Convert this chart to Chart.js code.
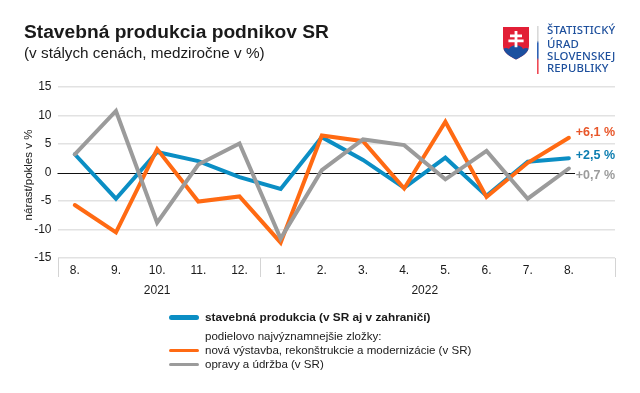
<!DOCTYPE html>
<html lang="sk">
<head>
<meta charset="utf-8">
<title>Stavebná produkcia podnikov SR</title>
<script src="https://cdn.jsdelivr.net/npm/chart.js@4"></script>
<style>
  html, body { margin: 0; padding: 0; background: #fff; }
  body { width: 640px; height: 393px; position: relative; overflow: hidden; font-family: "Liberation Sans", Arial, sans-serif; color: #1a1a1a; }
  canvas { position: absolute; left: 0; top: 0; }
  .txt { position: absolute; white-space: nowrap; }
  .title { left: 24px; top: 20px; font-size: 19.2px; font-weight: bold; line-height: 24px; }
  .subtitle { left: 24px; top: 43px; font-size: 15.3px; line-height: 20px; }
  .logo { left: 547px; font-family: "Noto Sans", sans-serif; font-size: 11.4px; line-height: 13px; font-weight: 500; color: #1d4f9c; letter-spacing: .15px; }
  .leg { left: 205px; font-size: 11.55px; line-height: 14px; }
  .swatch { position: absolute; left: 169px; width: 30px; border-radius: 2px; }
</style>
</head>
<body>
<canvas id="chart" width="640" height="393"></canvas>

<div class="txt title">Stavebná produkcia podnikov SR</div>
<div class="txt subtitle">(v stálych cenách, medziročne v %)</div>

<svg style="position:absolute;left:500px;top:24px" width="44" height="52" viewBox="500 24 44 52">
  <defs>
    <linearGradient id="bar" x1="0" y1="0" x2="0" y2="1">
      <stop offset="0" stop-color="#d9d9d9"/><stop offset=".3" stop-color="#d9d9d9"/>
      <stop offset=".36" stop-color="#2f62b5"/><stop offset=".66" stop-color="#2f62b5"/>
      <stop offset=".72" stop-color="#ee4a55"/><stop offset="1" stop-color="#ee4a55"/>
    </linearGradient>
    <clipPath id="shield"><path d="M503 27H529V46C529 53 521 57 516 59.5C511 57 503 53 503 46Z"/></clipPath>
  </defs>
  <path d="M503 27H529V46C529 53 521 57 516 59.5C511 57 503 53 503 46Z" fill="#e21f36"/>
  <path clip-path="url(#shield)" d="M500 52C503 48 506 47 509 49C511 44 521 44 523 49C526 47 529 48 532 52V62H500Z" fill="#1c4f9f"/>
  <path d="M514.6 31h2.8v3.6h4.6v2.6h-4.6v2.4h6.2v2.6h-6.2v5h-2.8v-5h-6.2v-2.6h6.2v-2.4h-4.6v-2.6h4.6z" fill="#fff"/>
  <rect x="537" y="26" width="1.6" height="48" fill="url(#bar)"/>
</svg>
<div class="txt logo" style="top:23px">ŠTATISTICKÝ</div>
<div class="txt logo" style="top:37px">ÚRAD</div>
<div class="txt logo" style="top:49px">SLOVENSKEJ</div>
<div class="txt logo" style="top:61px">REPUBLIKY</div>

<div class="swatch" style="top:314.5px;height:5px;background:#0b8ec4;border-radius:3px"></div>
<div class="txt leg" id="legA" style="top:310px;font-weight:bold;font-size:11.8px"></div>
<div class="txt leg" id="legNote" style="top:329px"></div>
<div class="swatch" style="top:348.5px;height:3px;background:#ff6a13"></div>
<div class="txt leg" id="legB" style="top:343px"></div>
<div class="swatch" style="top:363px;height:3px;background:#9b9b9b"></div>
<div class="txt leg" id="legC" style="top:357px"></div>

<script>
const months = ['8.', '9.', '10.', '11.', '12.', '1.', '2.', '3.', '4.', '5.', '6.', '7.', '8.'];
const years = [{ label: '2021', from: 0, to: 4 }, { label: '2022', from: 5, to: 12 }];
const yearBreaks = [4.5];

const stavebna = [3.2, -4.6, 3.6, 2.0, -0.8, -2.9, 6.2, 2.2, -2.7, 2.6, -4.1, 1.9, 2.5];
const novaVystavba = [-5.7, -10.5, 4.1, -5.1, -4.2, -12.3, 6.5, 5.5, -2.8, 8.9, -4.3, 1.7, 6.1];
const opravy = [3.2, 10.8, -8.8, 1.4, 5.1, -11.6, 0.4, 5.8, 4.8, -1.2, 3.8, -4.6, 0.7];

const seriesNames = [
  'stavebná produkcia (v SR aj v zahraničí)',
  'nová výstavba, rekonštrukcie a modernizácie (v SR)',
  'opravy a údržba (v SR)',
];
const legendNote = 'podielovo najvýznamnejšie zložky:';

const BLUE = '#0b8ec4';
const ORANGE = '#ff6a13';
const GRAY = '#9b9b9b';
const GRID = '#e2e2e2';
const FONT = '"Liberation Sans", Arial, sans-serif';

document.getElementById('legA').textContent = seriesNames[0];
document.getElementById('legNote').textContent = legendNote;
document.getElementById('legB').textContent = seriesNames[1];
document.getElementById('legC').textContent = seriesNames[2];

/* ---- zero line, year separators, year captions, axis caption ---- */
const axisExtras = {
  id: 'axisExtras',
  beforeDatasetsDraw(chart) {
    const { ctx, scales: { x, y } } = chart;
    ctx.save();
    ctx.strokeStyle = '#111';
    ctx.lineWidth = 1;
    const y0 = Math.round(y.getPixelForValue(0)) + 0.5;
    ctx.beginPath();
    ctx.moveTo(x.left, y0);
    ctx.lineTo(x.getPixelForValue(12.15), y0);
    ctx.stroke();

    ctx.strokeStyle = '#d4d4d4';
    const sep = [x.left, ...yearBreaks.map(v => x.getPixelForValue(v)), x.right];
    sep.forEach(px => {
      ctx.beginPath();
      ctx.moveTo(Math.round(px) + 0.5, y.bottom);
      ctx.lineTo(Math.round(px) + 0.5, y.bottom + 19);
      ctx.stroke();
    });

    ctx.fillStyle = '#1a1a1a';
    ctx.font = '12px ' + FONT;
    ctx.textAlign = 'center';
    ctx.textBaseline = 'middle';
    years.forEach(yr => {
      ctx.fillText(yr.label, x.getPixelForValue((yr.from + yr.to) / 2), y.bottom + 33);
    });

    ctx.translate(29, y.getPixelForValue(0) + 2.5);
    ctx.rotate(-Math.PI / 2);
    ctx.font = '11.5px ' + FONT;
    ctx.fillText('nárast/pokles v %', 0, 0);
    ctx.restore();
  },
  /* ---- value labels after the last point ---- */
  afterDatasetsDraw(chart) {
    const { ctx, scales: { x, y } } = chart;
    ctx.save();
    ctx.font = 'bold 12.5px ' + FONT;
    ctx.textAlign = 'right';
    ctx.textBaseline = 'middle';
    chart.data.datasets.forEach(ds => {
      ctx.fillStyle = ds.labelColor;
      ctx.fillText(ds.endLabel, x.right, y.getPixelForValue(ds.data[ds.data.length - 1].y) + ds.labelShift);
    });
    ctx.restore();
  },
};

function seriesDataset(name, values, color, endLabel, labelColor, labelShift) {
  return {
    label: name,
    data: values.map((v, i) => ({ x: i, y: v })),
    borderColor: color,
    borderWidth: 4,
    borderJoinStyle: 'miter',
    borderCapStyle: 'round',
    pointRadius: 0,
    tension: 0,
    fill: false,
    endLabel,
    labelColor,
    labelShift,
  };
}

// first dataset is painted last, so gray sits on top and blue at the bottom
const datasets = [
  seriesDataset(seriesNames[2], opravy, GRAY, '+0,7 %', '#9b9b9b', 7),
  seriesDataset(seriesNames[1], novaVystavba, ORANGE, '+6,1 %', '#e8572a', -5),
  seriesDataset(seriesNames[0], stavebna, BLUE, '+2,5 %', '#0b7db0', -3),
];

new Chart(document.getElementById('chart'), {
  type: 'line',
  data: { datasets },
  plugins: [axisExtras],
  options: {
    responsive: false,
    animation: false,
    layout: { padding: { left: 22, right: 25, top: 87, bottom: 0 } },
    plugins: { legend: { display: false }, tooltip: { enabled: false } },
    scales: {
      x: {
        type: 'linear',
        min: -0.42,
        max: 13.12,
        afterBuildTicks(axis) { axis.ticks = months.map((_, i) => ({ value: i })); },
        afterFit(axis) { axis.height = 135; },
        grid: { display: false, drawTicks: false },
        border: { display: false },
        ticks: {
          autoSkip: false,
          maxRotation: 0,
          padding: 5,
          color: '#1a1a1a',
          font: { family: FONT, size: 12 },
          callback: v => months[v],
        },
      },
      y: {
        min: -15,
        max: 15,
        afterFit(axis) { axis.width = 35.5; },
        grid: { color: c => (c.tick.value === 0 ? 'transparent' : GRID), lineWidth: 1.5, drawTicks: false },
        border: { display: false },
        ticks: {
          stepSize: 5,
          padding: 6,
          color: '#1a1a1a',
          font: { family: FONT, size: 12 },
        },
      },
    },
  },
});
</script>
</body>
</html>
